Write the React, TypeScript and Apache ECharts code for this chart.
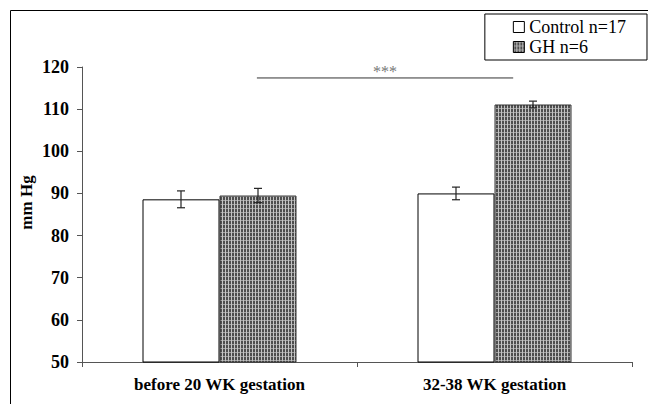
import React, { useEffect, useRef } from 'react';
import * as echarts from 'echarts';

const categories = ['before 20 WK gestation', '32-38 WK gestation'];
const seriesNames = ['Control n=17', 'GH n=6'];
const controlMeans = [88.6, 90.0];
const controlErrors = [2.0, 1.5];
const ghMeans = [89.5, 111.1];
const ghErrors = [1.7, 0.8];
const yMin = 50;
const yMax = 120;
const yInterval = 10;
const yAxisName = 'mm Hg';
const sigLabel = '***';
const sigValue = 117.4;

const FONT = "'Liberation Serif', 'DejaVu Serif', serif";
const CAT_GAP = 0.44;

function makePattern(): HTMLCanvasElement {
  const c = document.createElement('canvas');
  c.width = 3;
  c.height = 4;
  const ctx = c.getContext('2d')!;
  ctx.fillStyle = '#4e4e4e';
  ctx.fillRect(0, 0, 3, 4);
  ctx.fillStyle = '#c4c4c4';
  ctx.fillRect(0, 0, 1, 4);
  ctx.fillStyle = '#a0a0a0';
  ctx.fillRect(1, 0, 2, 1);
  return c;
}

export default function App() {
  const ref = useRef<HTMLDivElement>(null);
  useEffect(() => {
    document.body.style.margin = '0';
    const chart = echarts.init(ref.current!, null, { renderer: 'svg' });
    const pattern = makePattern();

    const errRender = (side: number) => (params: any, api: any) => {
      const x = api.value(0);
      const m = api.value(1);
      const e = api.value(2);
      const band = api.size([1, 0])[0];
      const off = (side * band * (1 - CAT_GAP)) / 4;
      const top = api.coord([x, m + e]);
      const bot = api.coord([x, m - e]);
      const cx = top[0] + off;
      const cap = 4;
      const style = { stroke: '#222', lineWidth: 1.2 };
      return {
        type: 'group',
        children: [
          { type: 'line', shape: { x1: cx, y1: top[1], x2: cx, y2: bot[1] }, style },
          { type: 'line', shape: { x1: cx - cap, y1: top[1], x2: cx + cap, y2: top[1] }, style },
          { type: 'line', shape: { x1: cx - cap, y1: bot[1], x2: cx + cap, y2: bot[1] }, style },
        ],
      };
    };

    chart.setOption({
      animation: false,
      backgroundColor: '#fff',
      grid: { left: 82, top: 67, right: 16, bottom: 42, containLabel: false },
      legend: {
        data: seriesNames,
        orient: 'vertical',
        right: 1,
        top: 14,
        padding: [4, 21, 4, 28],
        itemGap: 2,
        itemWidth: 11,
        itemHeight: 11,
        icon: 'rect',
        borderColor: '#000',
        borderWidth: 1,
        borderRadius: 0,
        backgroundColor: '#fff',
        textStyle: { fontFamily: FONT, fontSize: 18, color: '#000' },
        itemStyle: { borderColor: '#000', borderWidth: 1 },
      },
      xAxis: {
        type: 'category',
        data: categories,
        axisLine: { lineStyle: { color: '#555', width: 1 } },
        axisTick: { show: true, length: 5, lineStyle: { color: '#555' } },
        axisLabel: { fontFamily: FONT, fontSize: 17, fontWeight: 'bold', color: '#000', margin: 14 },
      },
      yAxis: {
        type: 'value',
        min: yMin,
        max: yMax,
        interval: yInterval,
        name: yAxisName,
        nameLocation: 'middle',
        nameRotate: 90,
        nameGap: 47,
        nameMoveOverlap: false,
        nameTextStyle: { fontFamily: FONT, fontSize: 17, fontWeight: 'bold', color: '#000', padding: [0, 0, 0, 24] },
        axisLine: { show: true, lineStyle: { color: '#555', width: 1 } },
        axisTick: { show: true, length: 5, lineStyle: { color: '#555' } },
        splitLine: { show: false },
        axisLabel: { fontFamily: FONT, fontSize: 18, fontWeight: 'bold', color: '#000', margin: 13 },
      },
      series: [
        {
          name: seriesNames[0],
          type: 'bar',
          data: controlMeans,
          barGap: '0%',
          barCategoryGap: `${CAT_GAP * 100}%`,
          itemStyle: { color: '#fff', borderColor: '#000', borderWidth: 1 },
        },
        {
          name: seriesNames[1],
          type: 'bar',
          data: ghMeans,
          barGap: '0%',
          barCategoryGap: `${CAT_GAP * 100}%`,
          itemStyle: { color: { image: pattern, repeat: 'repeat' } as any, borderColor: '#333', borderWidth: 1 },
        },
        {
          type: 'custom',
          name: 'control-err',
          renderItem: errRender(-1),
          data: controlMeans.map((m, i) => [i, m, controlErrors[i]]),
          encode: { x: 0, y: 1 },
          z: 5,
        },
        {
          type: 'custom',
          name: 'gh-err',
          renderItem: errRender(1),
          data: ghMeans.map((m, i) => [i, m, ghErrors[i]]),
          encode: { x: 0, y: 1 },
          z: 5,
        },
      ],
    });

    const p0 = chart.convertToPixel({ gridIndex: 0 }, [0, sigValue]) as number[];
    const p1 = chart.convertToPixel({ gridIndex: 0 }, [1, sigValue]) as number[];
    const band = p1[0] - p0[0];
    const x1 = p0[0] + band * 0.136;
    const x2 = p1[0] + band * 0.068;
    chart.setOption({
      graphic: [
        {
          type: 'rect',
          silent: true,
          shape: { x: 10.5, y: 10.5, width: 700, height: 500 },
          style: { fill: 'none', stroke: '#000', lineWidth: 1 },
          z: -1,
        },
        {
          type: 'line',
          shape: { x1, y1: p0[1], x2, y2: p0[1] },
          style: { stroke: '#333', lineWidth: 1 },
        },
        {
          type: 'text',
          x: (x1 + x2) / 2,
          y: p0[1] - 6,
          style: { text: sigLabel, fontFamily: FONT, fontSize: 16, fill: '#777', align: 'center', verticalAlign: 'middle' },
        },
      ],
    });

    return () => chart.dispose();
  }, []);
  return <div ref={ref} style={{ width: 648, height: 404 }} />;
}
